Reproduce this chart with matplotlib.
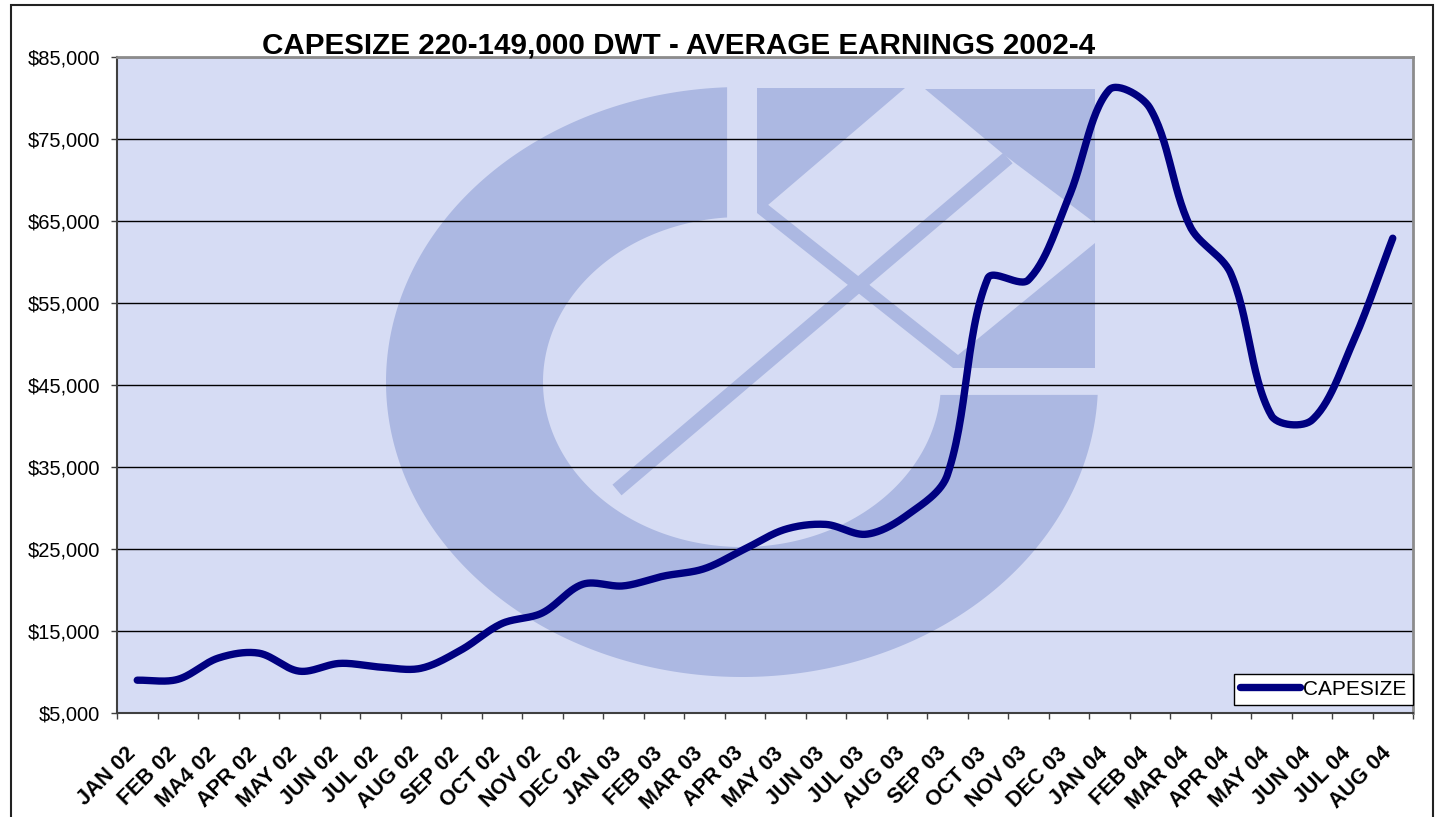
import numpy as np
import matplotlib
matplotlib.use('Agg')
import matplotlib.pyplot as plt
import matplotlib.transforms as mtransforms
from matplotlib.patches import Polygon, Rectangle
from matplotlib.ticker import FuncFormatter, NullFormatter

plt.rcParams['font.family'] = ['Liberation Sans', 'DejaVu Sans']

months = ['JAN 02', 'FEB 02', 'MA4 02', 'APR 02', 'MAY 02', 'JUN 02', 'JUL 02', 'AUG 02',
          'SEP 02', 'OCT 02', 'NOV 02', 'DEC 02', 'JAN 03', 'FEB 03', 'MAR 03', 'APR 03',
          'MAY 03', 'JUN 03', 'JUL 03', 'AUG 03', 'SEP 03', 'OCT 03', 'NOV 03', 'DEC 03',
          'JAN 04', 'FEB 04', 'MAR 04', 'APR 04', 'MAY 04', 'JUN 04', 'JUL 04', 'AUG 04']
capesize = [9000, 9100, 11700, 12300, 10100, 11050, 10600, 10450,
            12700, 15900, 17200, 20700, 20500, 21700, 22600, 25000,
            27400, 28000, 26800, 29100, 34000, 58000, 57800, 67900,
            81000, 78800, 64300, 58600, 41300, 40700, 50000, 62900]
y_ticks = [5000, 15000, 25000, 35000, 45000, 55000, 65000, 75000, 85000]

BG = '#D6DCF4'
LOGO = '#ACB8E2'
NAVY = '#000080'
W, H = 1441, 817
L, R, T, B = 117, 1413, 57, 713

fig = plt.figure(figsize=(W / 100, H / 100), dpi=100)
ax = fig.add_axes([L / W, 1 - B / H, (R - L) / W, (B - T) / H])
ax.set_facecolor(BG)
ax.set_xlim(0, len(months))
ax.set_ylim(y_ticks[0], y_ticks[-1])


# watermark logo, given in reference pixel positions
def logo_poly(points):
    pts = [((x - L) / (R - L), (B - y) / (B - T)) for x, y in points]
    ax.add_patch(Polygon(pts, closed=True, transform=ax.transAxes,
                         facecolor=LOGO, edgecolor='none', zorder=0.2))


cx, cy = 742, 382
to = np.radians(np.linspace(92.4, 357.5, 300))
ti = np.radians(np.linspace(355.5, 94.3, 300))
ring = list(zip(cx + 356 * np.cos(to), cy - 295 * np.sin(to))) + \
       list(zip(cx + 199 * np.cos(ti), cy - 165 * np.sin(ti)))
logo_poly(ring)
logo_poly([(757, 88), (905, 88), (768, 205), (757, 213)])
logo_poly([(925, 89), (1095, 89), (1095, 223), (1015, 163), (1002, 153)])
logo_poly([(757, 196), (958, 355), (1095, 243), (1095, 368), (953, 368), (757, 213)])
p0, p1 = np.array([617, 490]), np.array([1008, 158])
d = (p1 - p0) / np.hypot(*(p1 - p0))
n = np.array([-d[1], d[0]]) * 7
logo_poly([p0 + n, p1 + n, p1 - n, p0 - n])


# smoothed line (bezier through the points, done in display space)
def smooth(xs, ys, steps=30):
    pts = ax.transData.transform(np.c_[xs, ys])
    P = np.vstack([pts[0], pts, pts[-1]])
    out = []
    tt = np.linspace(0, 1, steps, endpoint=False)[:, None]
    for i in range(1, len(pts)):
        a, b, c, e = P[i - 1], P[i], P[i + 1], P[i + 2]
        d01 = np.hypot(*(b - a)) or 1e-9
        d12 = np.hypot(*(c - b)) or 1e-9
        d23 = np.hypot(*(e - c)) or 1e-9
        c1 = b + (c - a) * d12 / (d01 + d12) / 3
        c2 = c - (e - b) * d12 / (d12 + d23) / 3
        seg = ((1 - tt) ** 3) * b + 3 * ((1 - tt) ** 2) * tt * c1 + \
              3 * (1 - tt) * tt ** 2 * c2 + tt ** 3 * c
        out.append(seg)
    out.append(pts[-1][None, :])
    return ax.transData.inverted().transform(np.vstack(out)).T


x = np.arange(len(months)) + 0.5
sx, sy = smooth(x, capesize)
ax.plot(sx, sy, color=NAVY, lw=5.3, solid_capstyle='round', zorder=3, label='CAPESIZE')

# axes styling
ax.set_yticks(y_ticks)
ax.yaxis.set_major_formatter(FuncFormatter(lambda v, p: f'${v:,.0f}'))
ax.yaxis.grid(True, color='black', lw=1)
ax.set_axisbelow(True)
ax.tick_params(axis='y', direction='out', length=4.3, width=1, color='#404040',
               labelsize=14.5, pad=8)

ax.set_xticks(np.arange(len(months) + 1))
ax.xaxis.set_major_formatter(NullFormatter())
ax.set_xticks(x, months, minor=True)
ax.tick_params(axis='x', which='major', direction='out', length=4.3, width=1, color='#404040')
ax.tick_params(axis='x', which='minor', length=0, pad=27)
offset = mtransforms.ScaledTranslation(-4.5 / 100, 0, fig.dpi_scale_trans)
for lab in ax.get_xticklabels(minor=True):
    lab.set_rotation(45)
    lab.set_rotation_mode('anchor')
    lab.set_ha('right')
    lab.set_va('center')
    lab.set_fontsize(15.5)
    lab.set_fontweight('bold')
    lab.set_transform(lab.get_transform() + offset)

for s in ['left', 'bottom']:
    ax.spines[s].set_color('#404040')
    ax.spines[s].set_linewidth(1.5)
for s in ['top', 'right']:
    ax.spines[s].set_color('#8c8c8c')
    ax.spines[s].set_linewidth(2)

leg = ax.legend(loc='lower right', bbox_to_anchor=(1.0, 8 / (B - T)), borderaxespad=0,
                fancybox=False, framealpha=1, edgecolor='black', fontsize=15,
                handlelength=2.9, handletextpad=0.15, borderpad=0.3)
leg.get_frame().set_linewidth(1)

fig.text(679 / W, 1 - 53 / H, 'CAPESIZE 220-149,000 DWT - AVERAGE EARNINGS 2002-4',
         ha='center', va='baseline', fontsize=21.3, fontweight='bold')

fig.add_artist(Rectangle((11 / W, -0.1), 1422 / W, 1.1 - 5 / H, transform=fig.transFigure,
                         fill=False, edgecolor='#222222', lw=1.5))

fig.savefig('out.png', dpi=100)
